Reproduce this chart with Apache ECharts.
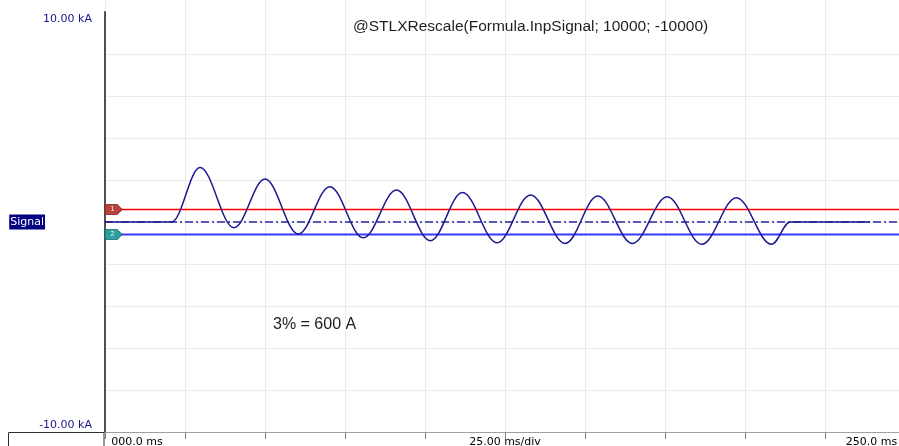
<!DOCTYPE html>
<html>
<head>
<meta charset="utf-8">
<title>Signal</title>
<script src="https://cdn.jsdelivr.net/npm/echarts@6/dist/echarts.min.js"></script>
<style>
  html, body { margin: 0; padding: 0; background: #ffffff; }
  #chart { width: 899px; height: 446px; }
</style>
</head>
<body>
<div id="chart"></div>
<script>
// Recorded current trace (time in ms, current in kA): inception, each peak and trough, return to rest
const timeMs = [
  0, 20.8, 29.7, 40.3, 50.0, 60.4, 70.25, 80.7, 91.1, 101.7, 111.7,
  122.5, 133.0, 143.8, 154.0, 164.8, 175.7, 186.5, 197.3, 208.3, 214.1, 239.0
];
const currentKA = [
  0, 0, 2.59, -0.27, 2.05, -0.57, 1.68, -0.75, 1.52, -0.89, 1.40,
  -0.99, 1.29, -1.02, 1.24, -1.02, 1.20, -1.06, 1.16, -1.06, 0, 0
];

// Threshold cursors (±3 % of 20 kA = ±600 A) and zero reference
const upperCursorKA = 0.6;
const lowerCursorKA = -0.6;
const zeroLevelKA = 0;

// Axis ranges and the labels shown on them
const timeRange = [0, 250];
const timeStep = 25;
const currentRange = [-10, 10];
const currentStep = 2;
const timeTickLabels = { 0: '000.0 ms', 125: '25.00 ms/div', 250: '250.0 ms' };
const currentTickLabels = { '10': '10.00 kA', '-10': '-10.00 kA' };

const titleText = '@STLXRescale(Formula.InpSignal; 10000; -10000)';
const noteText = '3% = 600 A';
const channelName = 'Signal';

const signalPoints = timeMs.map((t, i) => [t, currentKA[i]]);
const levelLine = (v) => [[timeRange[0], v], [timeRange[1], v]];

// Cursor tag shape: rounded on the left, pointed on the right
const tagPath = 'path://M1,0 L12,0 L17,5 L12,10 L1,10 Q0,10 0,9 L0,1 Q0,0 1,0 Z';

const chart = echarts.init(document.getElementById('chart'), null, { renderer: 'canvas' });

const gridLine = '#ebebeb';

chart.setOption({
  animation: false,
  backgroundColor: '#ffffff',
  title: {
    text: titleText,
    left: 353,
    top: 19,
    padding: 0,
    textStyle: { fontFamily: 'Liberation Sans', fontSize: 15.5, fontWeight: 'normal', color: '#1e1e1e' }
  },
  grid: [
    { left: 105, top: 12, width: 800, height: 420, containLabel: false, outerBoundsMode: 'none' },
    { left: 105, top: 0, width: 800, height: 432, containLabel: false, outerBoundsMode: 'none' }
  ],
  xAxis: [
    {
      type: 'value', gridIndex: 0,
      min: timeRange[0], max: timeRange[1], interval: timeStep,
      axisLine: { show: true, onZero: false, lineStyle: { color: '#a0a0a0', width: 1 } },
      axisTick: { show: true, inside: false, length: 7, lineStyle: { color: '#808080' } },
      splitLine: { show: false },
      axisLabel: {
        margin: 5,
        color: '#000000',
        fontFamily: 'DejaVu Sans',
        fontSize: 11,
        showMinLabel: true,
        showMaxLabel: true,
        formatter: (v) => {
          const s = timeTickLabels[v];
          if (!s) return '';
          if (v === timeRange[0]) return '{l|' + s + '}';
          if (v === timeRange[1]) return '{r|' + s + '}';
          return '{c|' + s + '}';
        },
        rich: {
          l: { padding: [0, 0, 0, 64], fontFamily: 'DejaVu Sans', fontSize: 11, color: '#000' },
          c: { fontFamily: 'DejaVu Sans', fontSize: 11, color: '#000' },
          r: { padding: [0, 67, 0, 0], fontFamily: 'DejaVu Sans', fontSize: 11, color: '#000' }
        }
      }
    },
    {
      type: 'value', gridIndex: 1,
      min: timeRange[0], max: timeRange[1], interval: timeStep,
      axisLine: { show: false }, axisTick: { show: false }, axisLabel: { show: false },
      splitLine: { show: true, lineStyle: { color: gridLine, width: 1 } }
    }
  ],
  yAxis: [
    {
      type: 'value', gridIndex: 0,
      min: currentRange[0], max: currentRange[1], interval: currentStep,
      axisLine: { show: true, lineStyle: { color: '#505050', width: 2 } },
      axisTick: { show: false },
      splitLine: { show: true, showMaxLine: false, lineStyle: { color: gridLine, width: 1 } },
      axisLabel: {
        margin: 13,
        color: '#16168a',
        fontFamily: 'DejaVu Sans',
        fontSize: 11,
        formatter: (v) => {
          const s = currentTickLabels[String(v)];
          if (!s) return '';
          return v > 0 ? '{t|' + s + '}' : '{b|' + s + '}';
        },
        rich: {
          t: { padding: [14, 0, 0, 0], fontFamily: 'DejaVu Sans', fontSize: 11, color: '#16168a' },
          b: { padding: [0, 0, 13, 0], fontFamily: 'DejaVu Sans', fontSize: 11, color: '#16168a' }
        }
      },
      name: channelName,
      nameLocation: 'middle',
      nameRotate: 0,
      nameGap: 60,
      nameMoveOverlap: false,
      nameTextStyle: {
        color: '#ffffff',
        backgroundColor: '#000080',
        fontFamily: 'DejaVu Sans',
        fontSize: 11,
        padding: [2, 1, 2, 1]
      }
    },
    {
      type: 'value', gridIndex: 1, min: 0, max: 1, show: false
    }
  ],
  graphic: [
    {
      type: 'text',
      left: 273, top: 317,
      style: { text: noteText, fontFamily: 'Liberation Sans', fontSize: 16, fill: '#1e1e1e' }
    },
    {
      type: 'rect',
      shape: { x: 8.5, y: 432.5, width: 95.5, height: 20 },
      style: { fill: 'none', stroke: '#303030', lineWidth: 1 },
      z: 10
    }
  ],
  series: [
    {
      name: 'Cursor 1', type: 'line', xAxisIndex: 0, yAxisIndex: 0,
      data: levelLine(upperCursorKA), symbol: 'none', silent: true,
      lineStyle: { color: '#ff0000', width: 1.5 }, z: 2,
      markPoint: {
        silent: true,
        data: [{ coord: [timeRange[0], upperCursorKA] }],
        symbol: tagPath, symbolSize: [17, 10], symbolOffset: ['50%', 0],
        itemStyle: { color: '#b8433b', borderColor: '#7e2622', borderWidth: 0.8 },
        label: { show: true, formatter: '1', color: '#f2e8e8', fontSize: 7, fontFamily: 'DejaVu Sans', offset: [-1, 0] }
      }
    },
    {
      name: 'Cursor 2', type: 'line', xAxisIndex: 0, yAxisIndex: 0,
      data: levelLine(lowerCursorKA), symbol: 'none', silent: true,
      lineStyle: { color: '#3838ff', width: 2 }, z: 2,
      markPoint: {
        silent: true,
        data: [{ coord: [timeRange[0], lowerCursorKA] }],
        symbol: tagPath, symbolSize: [17, 10], symbolOffset: ['50%', 0],
        itemStyle: { color: '#2aa0a0', borderColor: '#166a6a', borderWidth: 0.8 },
        label: { show: true, formatter: '2', color: '#e8f4f4', fontSize: 7, fontFamily: 'DejaVu Sans', offset: [-1, 0] }
      }
    },
    {
      name: 'Zero', type: 'line', xAxisIndex: 0, yAxisIndex: 0,
      data: levelLine(zeroLevelKA), symbol: 'none', silent: true,
      lineStyle: { color: '#2a2aa0', width: 1.5, type: [8, 3, 2, 3] }, z: 3
    },
    {
      name: channelName, type: 'line', xAxisIndex: 0, yAxisIndex: 0,
      data: signalPoints, symbol: 'none', silent: true,
      smooth: 0.36,
      smoothMonotone: 'x',
      lineStyle: { color: '#1a1a8e', width: 1.5 }, z: 4
    }
  ]
});
</script>
</body>
</html>
